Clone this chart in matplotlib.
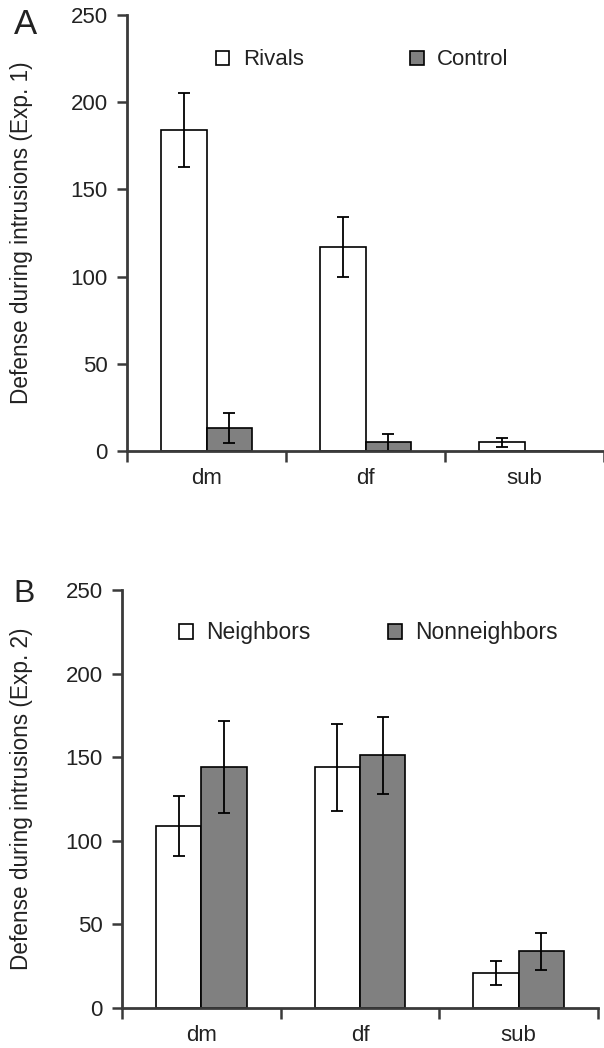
import numpy as np
import matplotlib
matplotlib.use("Agg")
import matplotlib.pyplot as plt

plt.rcParams['font.family'] = ['Liberation Sans', 'DejaVu Sans']

# Data
categories = ['dm', 'df', 'sub']

rivals = [184, 117, 5]
rivals_err = [21, 17, 2.5]
control = [13, 5, 0]
control_err = [8.5, 5, 0]

neighbors = [109, 144, 21]
neighbors_err = [18, 26, 7]
nonneighbors = [144, 151, 34]
nonneighbors_err = [27.5, 23, 11]

spine_col = '#3a3a3a'
gray = '#808080'
txt = '#222222'

fig = plt.figure(figsize=(6.04, 10.48), dpi=100)
axA = fig.add_axes([0.2103, 0.5697, 0.7900, 0.4160])
axB = fig.add_axes([0.2020, 0.0382, 0.7880, 0.3989])


def panel(ax, s1, e1, s2, e2, names, ylabel, leg_x, colsp, lab_x, lfs):
    x = np.arange(len(categories))
    w = 0.285
    ekw = dict(ecolor='black', elinewidth=1.3, capsize=4.5, capthick=1.3)
    b1 = ax.bar(x - w / 2, s1, w, color='white', edgecolor='black',
                linewidth=1.2, label=names[0])
    b2 = ax.bar(x + w / 2, s2, w, color=gray, edgecolor='black',
                linewidth=1.2, label=names[1])
    ax.errorbar(x - w / 2, s1, yerr=e1, fmt='none', **ekw)
    nz = np.array(e2) > 0
    ax.errorbar((x + w / 2)[nz], np.array(s2)[nz], yerr=np.array(e2)[nz],
                fmt='none', **ekw)

    ax.set_xlim(-0.5, 2.5)
    ax.set_ylim(0, 250)
    ax.set_yticks([0, 50, 100, 150, 200, 250])
    ax.set_xticks([-0.5, 0.5, 1.5, 2.5])
    ax.set_xticklabels([])
    ax.set_xticks(x, minor=True)
    ax.set_xticklabels(categories, minor=True)
    ax.tick_params(axis='x', which='minor', length=0, pad=12, labelsize=16,
                   colors=txt)
    ax.tick_params(axis='x', which='major', length=8, width=1.8,
                   color=spine_col)
    ax.tick_params(axis='y', length=7, width=1.8, color=spine_col,
                   labelsize=16, labelcolor=txt, pad=7)
    for s in ['top', 'right']:
        ax.spines[s].set_visible(False)
    for s in ['left', 'bottom']:
        ax.spines[s].set_color(spine_col)
        ax.spines[s].set_linewidth(2.0)

    ax.set_ylabel(ylabel, fontsize=16.3, color=txt)
    ax.yaxis.set_label_coords(lab_x, 0.5)

    ax.legend(handles=[b1, b2], ncol=2, frameon=False, fontsize=lfs,
              loc='center left', bbox_to_anchor=(leg_x, 0.897),
              borderpad=0, borderaxespad=0, handlelength=0.6,
              handleheight=0.6, handletextpad=0.6, columnspacing=colsp,
              labelcolor=txt)


panel(axA, rivals, rivals_err, control, control_err, ['Rivals', 'Control'],
      'Defense during intrusions (Exp. 1)', 0.1866, 4.8, -0.197, 16)
panel(axB, neighbors, neighbors_err, nonneighbors, nonneighbors_err,
      ['Neighbors', 'Nonneighbors'],
      'Defense during intrusions (Exp. 2)', 0.12, 3.35, -0.187, 16.5)

fig.text(25 / 604, 1 - 25 / 1048, 'A', fontsize=25, color=txt,
         ha='center', va='center')
fig.text(24 / 604, 1 - 594 / 1048, 'B', fontsize=23, color=txt,
         ha='center', va='center')

fig.savefig('out.png', dpi=100)
